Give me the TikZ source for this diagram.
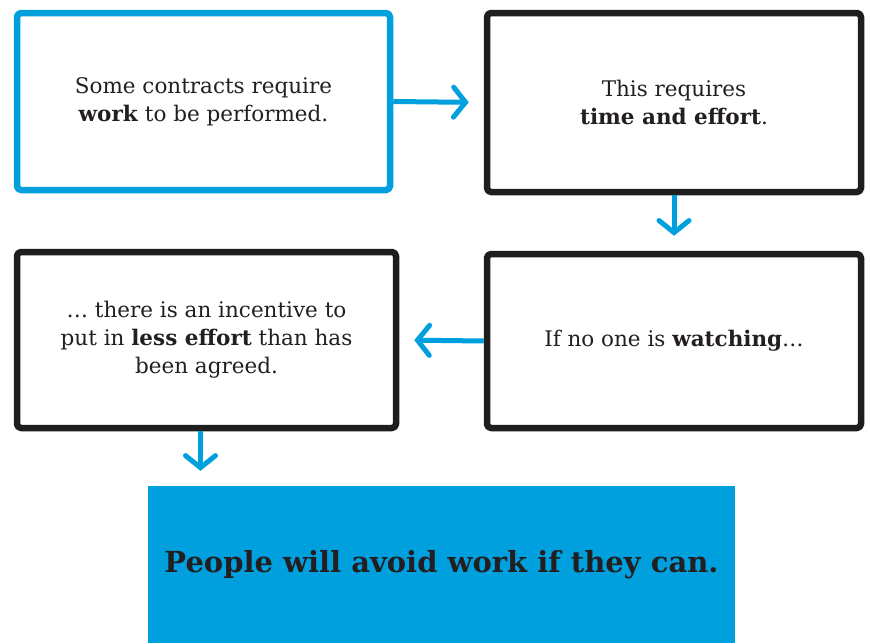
\documentclass[tikz,border=0pt]{standalone}
\usepackage{fontspec}
\setmainfont{DejaVu Serif}
\usetikzlibrary{arrows.meta}
\definecolor{skyblue}{RGB}{0,160,223}
\definecolor{ink}{RGB}{35,31,32}
\definecolor{crayon}{RGB}{30,30,30}
\begin{document}
\begin{tikzpicture}[x=1pt,y=-1pt,
  box/.style={draw=crayon, line width=6.5pt, rounded corners=4pt, line join=round,
    minimum width=#1, inner sep=0pt, align=center, text=ink,
    font=\fontsize{21.5}{28}\selectfont},
  bluebox/.style={box=#1, draw=skyblue},
  conn/.style={draw=skyblue, line width=5pt,
    -{Straight Barb[length=12pt,width=30pt,line width=5pt,line cap=round]}, shorten >=15pt}
]
\useasboundingbox (0,0) rectangle (870,643);
\fill[white] (0,0) rectangle (870,643);
\node[bluebox=373pt, minimum height=177pt] (b1) at (203.5,101.5)
  {Some contracts require\\\textbf{work} to be performed.};
\node[box=374pt, minimum height=179pt] (b2) at (674,102.5)
  {This requires\\\textbf{time and effort}.};
\node[box=374pt, minimum height=174pt] (b3) at (674,341)
  {If no one is \textbf{watching}\dots};
\node[box=379pt, minimum height=176pt] (b4) at (206.5,340)
  {\dots\ there is an incentive to\\put in \textbf{less effort} than has\\been agreed.};
\node[fill=skyblue, minimum width=587pt, minimum height=157pt, inner sep=0pt,
  text=ink, font=\bfseries\fontsize{29}{34}\selectfont] (b5) at (441.5,564.5)
  {People will avoid work if they can.};
\draw[conn] (b1.east) -- (b2.west);
\draw[conn] (b2.south) -- (b3.north);
\draw[conn] (b3.west) -- (b4.east);
\draw[conn] ([xshift=-6pt]b4.south) -- ([xshift=-6pt]b4.south |- b5.north);
\end{tikzpicture}
\end{document}
